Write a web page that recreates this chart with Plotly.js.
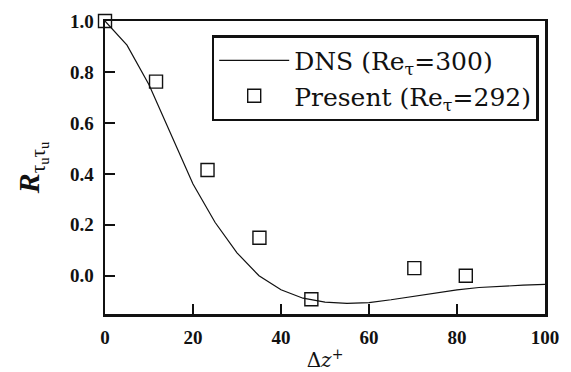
<!DOCTYPE html>
<html>
<head>
<meta charset="utf-8">
<script src="https://cdn.plot.ly/plotly-3.0.1.min.js"></script>
<style>html,body{margin:0;padding:0;background:#fff;}#chart{width:571px;height:372px;}</style>
</head>
<body>
<div id="chart"></div>
<script>
// DNS (Re_tau = 300) correlation curve
var dnsDz = [0, 5, 10, 15, 20, 25, 30, 35, 40, 45, 50, 55, 60, 65, 70, 75, 80, 85, 90, 95, 100];
var dnsR  = [1.0, 0.905, 0.75, 0.555, 0.36, 0.21, 0.09, 0.0, -0.055, -0.088, -0.103, -0.108, -0.105, -0.094, -0.081, -0.068, -0.055, -0.046, -0.041, -0.037, -0.034];
// Present (Re_tau = 292)
var presDz = [0, 11.6, 23.3, 35.1, 46.9, 70.3, 82.0];
var presR  = [1.0, 0.762, 0.415, 0.149, -0.092, 0.030, 0.0];
var xTicks = [0, 20, 40, 60, 80, 100];
var yTicks = [0.0, 0.2, 0.4, 0.6, 0.8, 1.0];
var yTickText = ['0.0', '0.2', '0.4', '0.6', '0.8', '1.0'];

var serif = 'Liberation Serif';
var serif2 = 'DejaVu Serif';

var traces = [
  {x: dnsDz, y: dnsR, mode: 'lines', name: 'DNS (Re<sub>τ</sub>=300)',
   line: {color: '#111', width: 1.2}, cliponaxis: false},
  {x: presDz, y: presR, mode: 'markers', name: 'Present (Re<sub>τ</sub>=292)',
   marker: {symbol: 'square-open', size: 13, color: '#111', line: {width: 1.4, color: '#111'}}, cliponaxis: false}
];

var layout = {
  width: 571, height: 372,
  margin: {l: 105, r: 26, t: 21, b: 58},
  paper_bgcolor: '#fff', plot_bgcolor: '#fff',
  font: {family: serif, color: '#111', size: 20},
  showlegend: true,
  legend: {x: 0.2425, y: 0.952, xanchor: 'left', yanchor: 'top',
           bordercolor: '#111', borderwidth: 2.5, bgcolor: '#fff',
           font: {family: serif2, size: 25, color: '#111'},
           itemwidth: 70, tracegroupgap: 0},
  xaxis: {range: [0, 100], tickvals: xTicks, ticktext: xTicks.map(String),
          ticks: 'inside', ticklen: 10, tickwidth: 2.5, tickcolor: '#111',
          showline: true, linewidth: 2.5, linecolor: '#111', mirror: true,
          showgrid: false, zeroline: false, ticklabelstandoff: 5,
          tickfont: {family: serif, size: 19, color: '#111', weight: 'bold'},
          title: {text: 'Δ<i>z</i><sup>+</sup>', font: {family: serif2, size: 20, color: '#111'}, standoff: 10}},
  yaxis: {range: [-0.15, 1.0], tickvals: yTicks, ticktext: yTickText,
          ticks: 'inside', ticklen: 10, tickwidth: 2.5, tickcolor: '#111',
          showline: true, linewidth: 2.5, linecolor: '#111', mirror: true,
          showgrid: false, zeroline: false, ticklabelstandoff: 5,
          tickfont: {family: serif, size: 19, color: '#111', weight: 'bold'},
          title: {text: '<b><i>R</i></b><sub>τ<sub>u</sub>τ<sub>u</sub></sub>', font: {family: serif, size: 30, color: '#111'}, standoff: 22}}
};

Plotly.newPlot('chart', traces, layout, {staticPlot: true, displayModeBar: false});
</script>
</body>
</html>
